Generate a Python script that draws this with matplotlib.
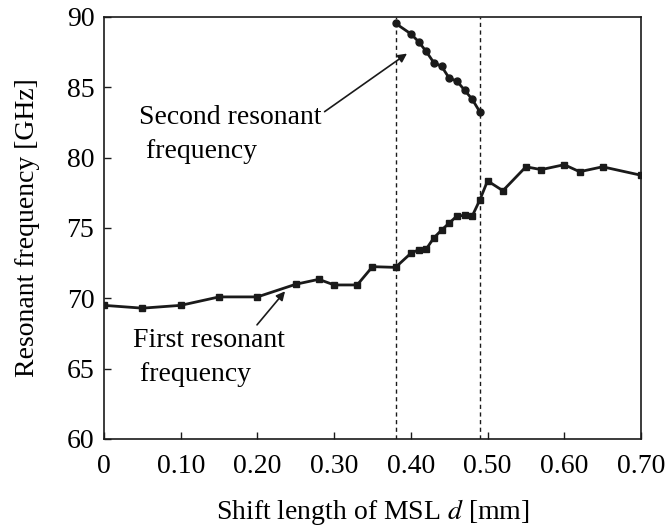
import numpy as np
import matplotlib
matplotlib.use("Agg")
import matplotlib.pyplot as plt

# first resonant frequency (squares)
shift_1 = [0, 0.05, 0.10, 0.15, 0.20, 0.25, 0.28, 0.30, 0.33, 0.35, 0.38,
           0.40, 0.41, 0.42, 0.43, 0.44, 0.45, 0.46, 0.47, 0.48, 0.49,
           0.50, 0.52, 0.55, 0.57, 0.60, 0.62, 0.65, 0.70]
freq_1 = [69.5, 69.3, 69.5, 70.1, 70.1, 71.0, 71.35, 70.95, 70.95, 72.25, 72.2,
          73.2, 73.45, 73.5, 74.3, 74.85, 75.35, 75.85, 75.9, 75.85, 77.0,
          78.35, 77.65, 79.35, 79.15, 79.5, 79.0, 79.35, 78.75]

# second resonant frequency (circles)
shift_2 = [0.38, 0.40, 0.41, 0.42, 0.43, 0.44, 0.45, 0.46, 0.47, 0.48, 0.49]
freq_2 = [89.55, 88.8, 88.25, 87.55, 86.75, 86.5, 85.65, 85.45, 84.8, 84.15, 83.25]

# dashed boundaries
bounds = [0.38, 0.49]

xticks = [0, 0.10, 0.20, 0.30, 0.40, 0.50, 0.60, 0.70]
xtick_labels = ["0", "0.10", "0.20", "0.30", "0.40", "0.50", "0.60", "0.70"]
yticks = [60, 65, 70, 75, 80, 85, 90]

plt.rcParams['font.family'] = ['Liberation Serif', 'DejaVu Serif']
plt.rcParams['mathtext.fontset'] = 'stix'

fig = plt.figure(figsize=(6.69, 5.31), dpi=100)
ax = fig.add_axes([0.1555, 0.1733, 0.8026, 0.7947])

c = '#1a1a1a'
for b in bounds:
    ax.axvline(b, color=c, lw=1.0, ls=(0, (3, 2.5)), zorder=1)

ax.plot(shift_1, freq_1, color=c, lw=2.0, marker='s', ms=4.8, zorder=3)
ax.plot(shift_2, freq_2, color=c, lw=2.0, marker='o', ms=5, zorder=3)

ax.set_xlim(0, 0.70)
ax.set_ylim(60, 90)
ax.set_xticks(xticks)
ax.set_xticklabels(xtick_labels)
ax.set_yticks(yticks)
ax.tick_params(direction='in', length=5, width=1, labelsize=20, color=c)
ax.tick_params(axis='x', pad=11)
ax.tick_params(axis='y', pad=7)
for s in ax.spines.values():
    s.set_linewidth(1.2)
    s.set_color(c)

ax.set_xlabel("Shift length of MSL $d$ [mm]", fontsize=20, labelpad=13)
ax.set_ylabel("Resonant frequency [GHz]", fontsize=20, labelpad=19)

ax.annotate("Second resonant\n frequency", xy=(0.395, 87.4), xytext=(0.046, 81.65),
            fontsize=20, ha='left', va='center', linespacing=1.5,
            arrowprops=dict(arrowstyle='-|>', color=c, lw=1.2,
                            mutation_scale=13, shrinkA=0, shrinkB=0,
                            relpos=(1.0, 0.85)))
ax.annotate("First resonant\n frequency", xy=(0.236, 70.5), xytext=(0.038, 65.8),
            fontsize=20, ha='left', va='center', linespacing=1.5,
            arrowprops=dict(arrowstyle='-|>', color=c, lw=1.2,
                            mutation_scale=13, shrinkA=0, shrinkB=0,
                            relpos=(0.8, 1.0)))

fig.savefig("out.png", dpi=100)
